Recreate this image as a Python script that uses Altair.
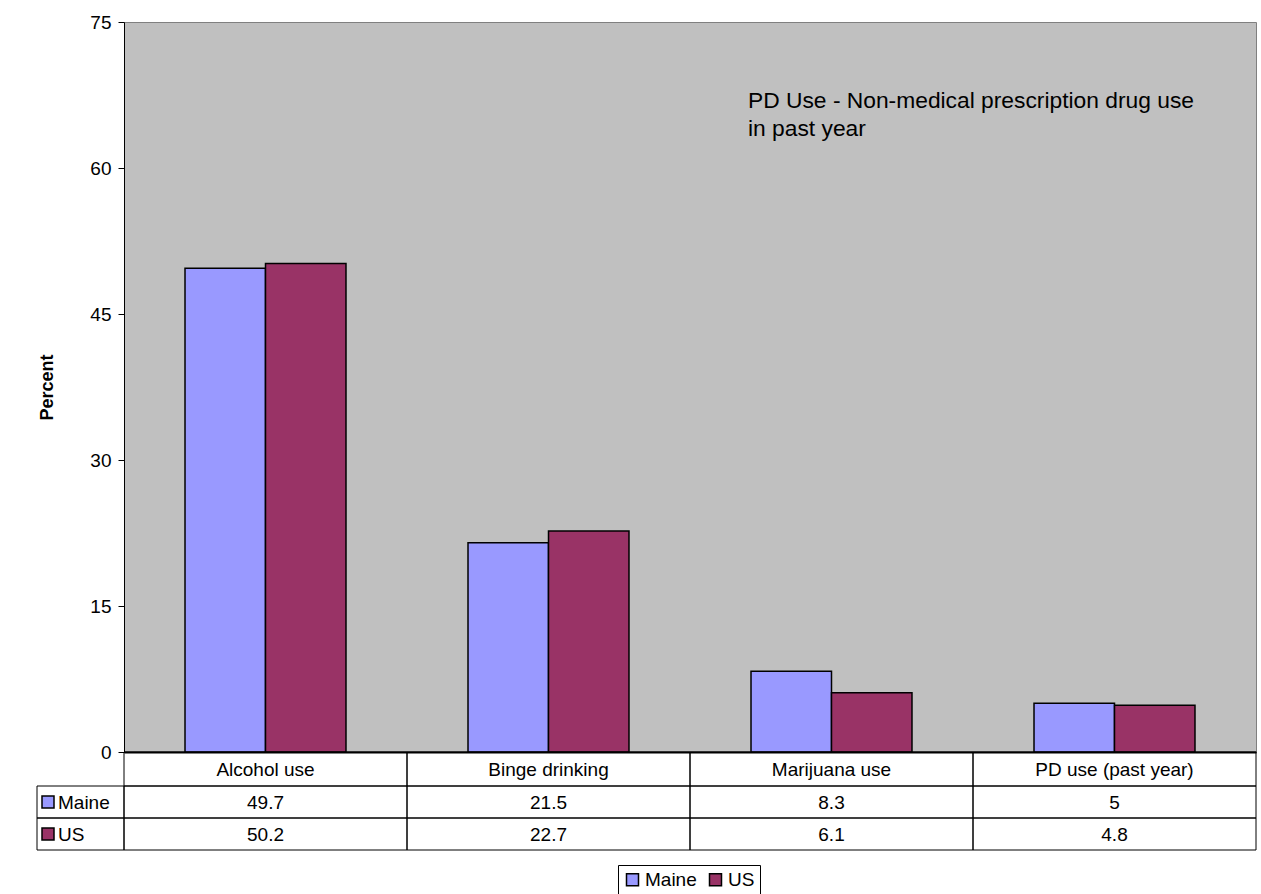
import altair as alt
import pandas as pd

# Survey results: percent of respondents reporting each behaviour
categories = ["Alcohol use", "Binge drinking", "Marijuana use", "PD use (past year)"]
series = ["Maine", "US"]
maine_values = [49.7, 21.5, 8.3, 5]
us_values = [50.2, 22.7, 6.1, 4.8]
series_colors = ["#9999FF", "#993366"]
y_ticks = [0, 15, 30, 45, 60, 75]
note_lines = ["PD Use - Non-medical prescription drug use", "in past year"]

FONT = "Liberation Sans"
FS = 19
W, H = 1132, 730

rows = []
for name, vals in zip(series, [maine_values, us_values]):
    for cat, v in zip(categories, vals):
        rows.append({"category": cat, "series": name, "value": v, "label": f"{v:g}"})
df = pd.DataFrame(rows)
cat_df = pd.DataFrame({"category": categories})

x_enc = alt.X("category:N", sort=categories, axis=alt.Axis(labels=False, ticks=False, title=None,
              domainColor="black", domainWidth=2),
              scale=alt.Scale(paddingInner=0, paddingOuter=0))

bars = alt.Chart(df).mark_bar(stroke="black", strokeWidth=1.5).encode(
    x=x_enc,
    xOffset=alt.XOffset("series:N", sort=series,
                        scale=alt.Scale(paddingInner=0, paddingOuter=0.758)),
    y=alt.Y("value:Q", scale=alt.Scale(domain=[0, 75], nice=False),
            axis=alt.Axis(values=y_ticks, title="Percent", grid=False,
                          labelFontSize=FS, labelFont=FONT, labelColor="black",
                          labelPadding=7, tickSize=6, tickColor="black",
                          domainColor="black",
                          titleFont=FONT, titleFontSize=18, titleFontWeight="bold",
                          titleColor="black", titleAngle=-90, titleX=-77, titleY=H / 2,
                          titleAlign="center", titleBaseline="middle")),
    color=alt.Color("series:N", sort=series,
                    scale=alt.Scale(domain=series, range=series_colors),
                    legend=alt.Legend(orient="none", legendX=494, legendY=843,
                                      direction="horizontal", title=None,
                                      symbolType="square", symbolSize=144,
                                      symbolStrokeColor="black", symbolStrokeWidth=1.5,
                                      labelFontSize=FS, labelFont=FONT, labelColor="black",
                                      strokeColor="black", fillColor="white",
                                      padding=5, columnPadding=9, labelOffset=3)),
)

note = alt.Chart(cat_df.head(1)).mark_text(
    text=note_lines, align="left", baseline="alphabetic", font=FONT, fontSize=22.8,
    color="black", lineHeight=28,
).encode(x=alt.value(624), y=alt.value(86))

layers = [bars, note]

# Data table under the plot: header row + one row per series
row_top = [H, H + 34, H + 66]
row_bot = [H + 34, H + 66, H + 98]
baselines = [H + 24, H + 57, H + 89]

header_cells = alt.Chart(cat_df).mark_rect(fill="transparent", stroke="black", strokeWidth=1).encode(
    x=alt.X("category:N", sort=categories), y=alt.value(row_top[0]), y2=alt.value(row_bot[0]))
header_text = alt.Chart(cat_df).mark_text(font=FONT, fontSize=FS, color="black",
                                         baseline="alphabetic").encode(
    x=alt.X("category:N", sort=categories, bandPosition=0.5), y=alt.value(baselines[0]),
    text="category:N")
layers += [header_cells, header_text]

for i, (name, color) in enumerate(zip(series, series_colors)):
    r = i + 1
    sub = df[df["series"] == name]
    cells = alt.Chart(sub).mark_rect(fill="transparent", stroke="black", strokeWidth=1).encode(
        x=alt.X("category:N", sort=categories), y=alt.value(row_top[r]), y2=alt.value(row_bot[r]))
    vals = alt.Chart(sub).mark_text(font=FONT, fontSize=FS, color="black",
                                    baseline="alphabetic").encode(
        x=alt.X("category:N", sort=categories, bandPosition=0.5), y=alt.value(baselines[r]),
        text="label:N")
    one = sub.head(1)
    name_cell = alt.Chart(one).mark_rect(fill="transparent", stroke="black", strokeWidth=1).encode(
        x=alt.value(-87), x2=alt.value(0), y=alt.value(row_top[r]), y2=alt.value(row_bot[r]))
    key = alt.Chart(one).mark_rect(fill=color, stroke="black", strokeWidth=1.5).encode(
        x=alt.value(-82), x2=alt.value(-70),
        y=alt.value(row_top[r] + 10), y2=alt.value(row_top[r] + 22))
    name_text = alt.Chart(one).mark_text(font=FONT, fontSize=FS, color="black", align="left",
                                         baseline="alphabetic").encode(
        x=alt.value(-66), y=alt.value(baselines[r]), text="series:N")
    layers += [cells, vals, name_cell, key, name_text]

chart = alt.layer(*layers).properties(
    width=W, height=H,
    autosize=alt.AutoSizeParams(type="none"),
    padding={"left": 124, "top": 22, "right": 5, "bottom": 142},
    background="white",
).configure_view(fill="#C0C0C0", stroke="#808080", strokeWidth=1)

chart.save("out.html", embed_options={"renderer": "svg", "actions": False})
